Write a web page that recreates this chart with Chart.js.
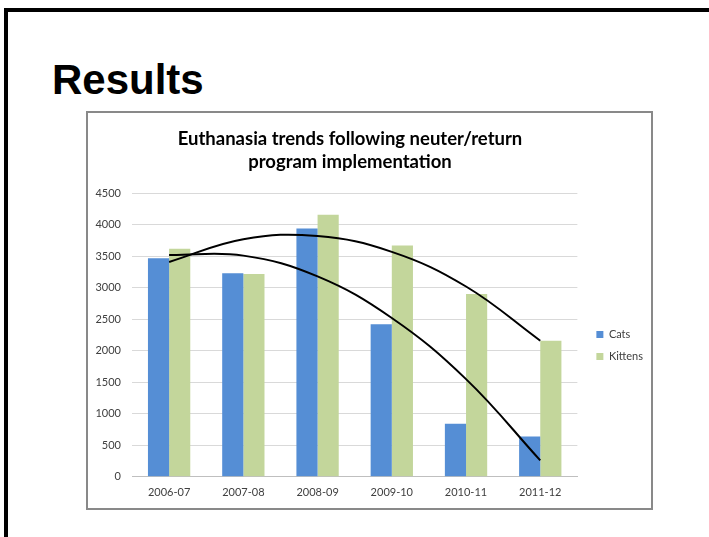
<!DOCTYPE html>
<html>
<head>
<meta charset="utf-8">
<script src="https://cdn.jsdelivr.net/npm/chart.js@4/dist/chart.umd.min.js"></script>
<style>
  html, body { margin: 0; padding: 0; background: #fff; }
  body { width: 709px; height: 537px; position: relative; overflow: hidden; }
  #topbar { position: absolute; left: 4px; top: 8px; width: 705px; height: 4px; background: #000; }
  #leftbar { position: absolute; left: 4px; top: 8px; width: 4px; height: 529px; background: #000; }
  #heading { position: absolute; left: 52px; top: 56px; margin: 0;
    font-family: "Liberation Sans", Arial, sans-serif; font-weight: bold; font-size: 42px; line-height: 48px; color: #000; }
  #box { position: absolute; left: 86px; top: 111px; width: 563px; height: 395px; border: 2px solid #898989; }
  canvas { display: block; }
</style>
</head>
<body>
<div id="topbar"></div>
<div id="leftbar"></div>
<h1 id="heading">Results</h1>
<div id="box"><canvas id="c" width="563" height="395"></canvas></div>
<script>
const categories = ["2006-07", "2007-08", "2008-09", "2009-10", "2010-11", "2011-12"];
const cats = [3470, 3230, 3940, 2420, 840, 640];
const kittens = [3620, 3220, 4160, 3670, 2900, 2160];
// polynomial (order 2) trendline values read at each category
const catsTrend = [3520, 3510, 3180, 2520, 1550, 260];
const kittensTrend = [3410, 3770, 3820, 3570, 3020, 2160];
const yTicks = [0, 500, 1000, 1500, 2000, 2500, 3000, 3500, 4000, 4500];
const titleLines = ["Euthanasia trends following neuter/return", "program implementation"];

const blockShift = {
  id: 'blockShift',
  afterLayout(chart) {
    const lg = chart.legend;
    if (lg) {
      lg.left += 8; lg.right += 8;
      lg.top += 35; lg.bottom += 35;
    }
    const tb = chart.titleBlock;
    if (tb) { tb.left -= 20; tb.right -= 20; }
  }
};

new Chart(document.getElementById('c'), {
  data: {
    labels: categories,
    datasets: [
      { type: 'line', label: 'Poly. (Cats)', data: catsTrend, borderColor: '#000', borderWidth: 2,
        pointRadius: 0, tension: 0.4, fill: false, order: 0 },
      { type: 'line', label: 'Poly. (Kittens)', data: kittensTrend, borderColor: '#000', borderWidth: 2,
        pointRadius: 0, tension: 0.4, fill: false, order: 0 },
      { type: 'bar', label: 'Cats', data: cats, backgroundColor: '#558ed5', order: 1,
        categoryPercentage: 0.57, barPercentage: 1.0 },
      { type: 'bar', label: 'Kittens', data: kittens, backgroundColor: '#c3d69b', order: 1,
        categoryPercentage: 0.57, barPercentage: 1.0 }
    ]
  },
  options: {
    responsive: false,
    devicePixelRatio: 1,
    animation: false,
    layout: { padding: { left: 7, right: 6, top: 0, bottom: 0 } },
    plugins: {
      tooltip: { enabled: false },
      title: {
        display: true,
        text: titleLines,
        color: '#000',
        font: { family: 'Lato', weight: 'bold', size: 18.5, lineHeight: 1.25 },
        padding: { top: 14, bottom: 20 }
      },
      legend: {
        position: 'right',
        labels: {
          filter: (item) => item.text === 'Cats' || item.text === 'Kittens',
          boxWidth: 7, boxHeight: 7, padding: 11,
          color: '#404040',
          font: { family: 'Lato', size: 11 }
        }
      }
    },
    scales: {
      x: {
        offset: true,
        grid: { display: false, drawTicks: false },
        border: { display: true, color: '#bfbfbf', width: 1 },
        ticks: { color: '#404040', padding: 9, font: { family: 'Lato', size: 11 }, maxRotation: 0 }
      },
      y: {
        min: 0, max: 4500,
        afterBuildTicks: (axis) => { axis.ticks = yTicks.map(v => ({ value: v })); },
        afterFit: (axis) => { axis.width = 37; },
        grid: { color: '#d9d9d9', drawTicks: false },
        border: { display: false },
        ticks: { color: '#404040', padding: 11, font: { family: 'Lato', size: 11 },
          callback: (v) => String(v) }
      }
    }
  },
  plugins: [blockShift]
});
</script>
</body>
</html>
